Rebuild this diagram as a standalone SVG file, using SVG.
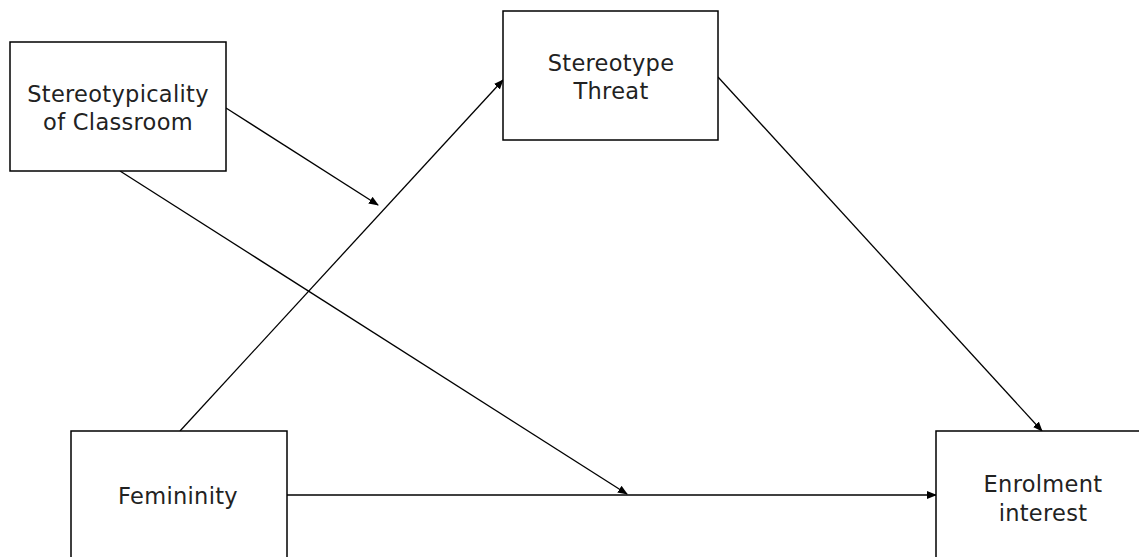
<svg xmlns="http://www.w3.org/2000/svg" width="1139" height="557" viewBox="0 0 1139 557">
<style>
.box{fill:#fff;stroke:#000;stroke-width:1.5}
.lbl{font-family:"DejaVu Sans",Verdana,sans-serif;font-size:22.5px;letter-spacing:0.3px;fill:#222;text-anchor:middle}
.con{stroke:#000;stroke-width:1.3;fill:none;marker-end:url(#ah)}
</style>
<defs>
<marker id="ah" markerWidth="10" markerHeight="8" refX="9" refY="4" orient="auto" markerUnits="userSpaceOnUse">
<path d="M0,0 L10,4 L0,8 Z" fill="#000"/>
</marker>
</defs>
<rect width="1139" height="557" fill="#fff"/>
<g id="connectors">
<line class="con" x1="180" y1="431" x2="503" y2="80"/>
<line class="con" x1="718" y1="77" x2="1042" y2="431"/>
<line class="con" x1="226" y1="108" x2="378" y2="205"/>
<line class="con" x1="120" y1="171" x2="627" y2="494"/>
<line class="con" x1="287" y1="495" x2="936" y2="495"/>
</g>
<g id="stereotypicality">
<rect class="box" x="10" y="42" width="216" height="129"/>
<text class="lbl" x="118" y="102">Stereotypicality</text>
<text class="lbl" x="118" y="130">of Classroom</text>
</g>
<g id="threat">
<rect class="box" x="503" y="11" width="215" height="129"/>
<text class="lbl" x="611" y="71">Stereotype</text>
<text class="lbl" x="611" y="99">Threat</text>
</g>
<g id="femininity">
<rect class="box" x="71" y="431" width="216" height="140"/>
<text class="lbl" x="178" y="504">Femininity</text>
</g>
<g id="enrolment">
<rect class="box" x="936" y="431" width="215" height="140"/>
<text class="lbl" x="1043" y="492">Enrolment</text>
<text class="lbl" x="1043" y="521">interest</text>
</g>
</svg>
